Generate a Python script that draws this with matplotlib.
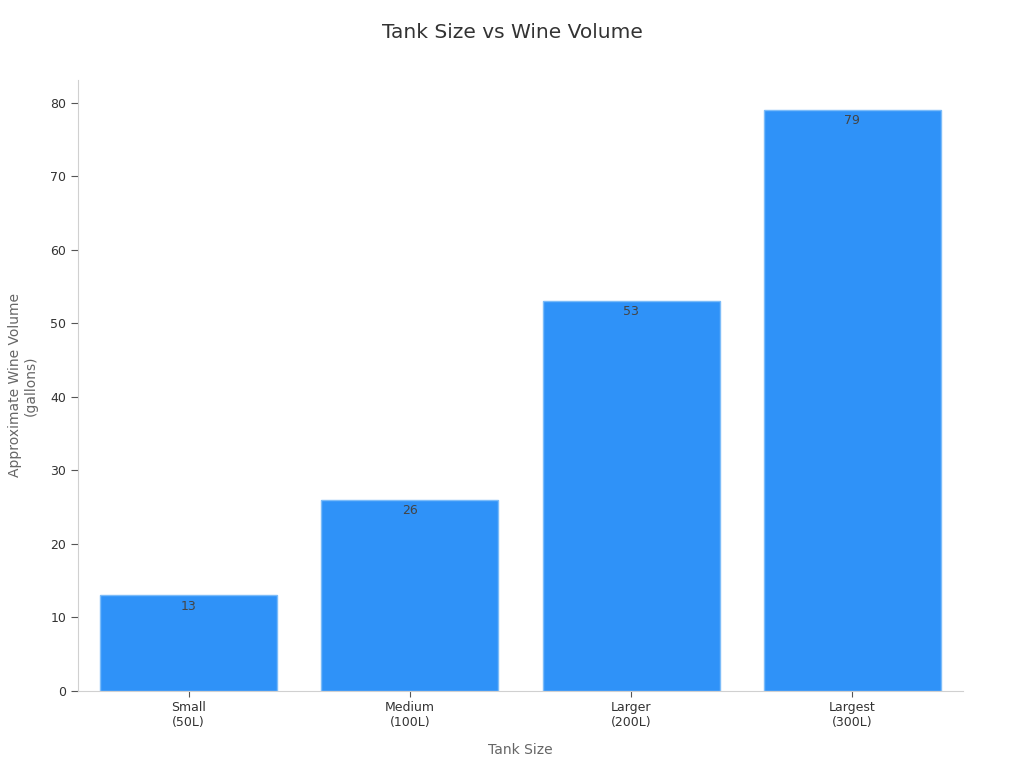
import matplotlib.pyplot as plt
import numpy as np

categories = ['Small\n(50L)', 'Medium\n(100L)', 'Larger\n(200L)', 'Largest\n(300L)']
volumes = [13, 26, 53, 79]

plt.rcParams['font.family'] = ['DejaVu Sans']

fig = plt.figure(figsize=(10.24, 7.68), dpi=100)
ax = fig.add_axes([0.0762, 0.1003, 0.8642, 0.7955])

x = np.arange(len(categories))
bars = ax.bar(x, volumes, width=0.8, color='#2f92f8', edgecolor='#7cbcf9', linewidth=1)

for xi, v in zip(x, volumes):
    ax.annotate(str(v), (xi, v), xytext=(0, -3), textcoords='offset points',
                ha='center', va='top', fontsize=9, color='#444444')

ax.set_xlim(-0.5, 3.5)
ax.set_ylim(0, 83.1)
ax.set_yticks(range(0, 81, 10))
ax.set_xticks(x)
ax.set_xticklabels(categories, fontsize=9, color='#333333')
ax.tick_params(axis='y', labelsize=9, labelcolor='#333333', color='#555555', length=5)
ax.tick_params(axis='x', color='#555555', length=4)

for s in ['top', 'right']:
    ax.spines[s].set_visible(False)
for s in ['left', 'bottom']:
    ax.spines[s].set_color('#d0d0d0')

ax.set_xlabel('Tank Size', fontsize=10, color='#666666', labelpad=10)
ax.set_ylabel('Approximate Wine Volume\n(gallons)', fontsize=10, color='#666666', labelpad=9)
fig.suptitle('Tank Size vs Wine Volume', fontsize=14.5, color='#333333', y=0.97)

fig.savefig('out.png', dpi=100)
